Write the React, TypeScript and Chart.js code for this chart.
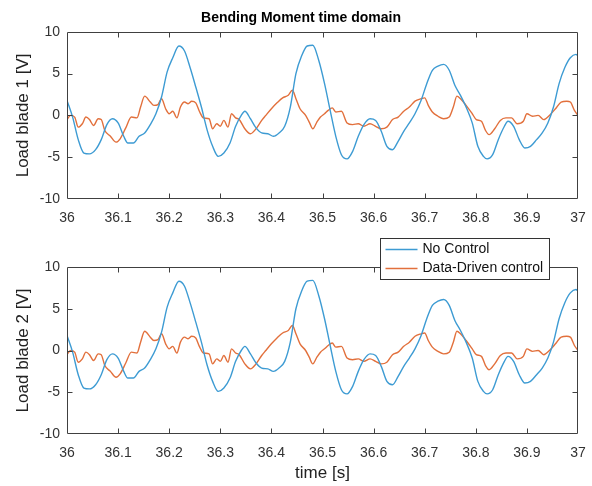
import React, { useEffect, useRef } from "react";
import { Chart, registerables } from "chart.js";

Chart.register(...registerables);

const titleText = "Bending Moment time domain";
const seriesLabels = ["No Control", "Data-Driven control"];
const seriesColors = ["#3d9bd3", "#e2703c"];
const yLabels = ["Load blade 1 [V]", "Load blade 2 [V]"];
const xLabel = "time [s]";
const xTicks = [36, 36.1, 36.2, 36.3, 36.4, 36.5, 36.6, 36.7, 36.8, 36.9, 37];
const yTicks = [-10, -5, 0, 5, 10];

const timeNoControl = [
  36.0, 36.011, 36.022, 36.033, 36.044, 36.056, 36.067, 36.078, 36.089, 36.1,
  36.111, 36.119, 36.13, 36.141, 36.152, 36.163, 36.174, 36.185, 36.196, 36.207,
  36.219, 36.23, 36.241, 36.252, 36.263, 36.274, 36.285, 36.296, 36.307, 36.319,
  36.33, 36.341, 36.348, 36.359, 36.37, 36.381, 36.393, 36.404, 36.415, 36.426,
  36.437, 36.448, 36.459, 36.47, 36.481, 36.493, 36.504, 36.515, 36.526, 36.537,
  36.548, 36.559, 36.57, 36.581, 36.593, 36.604, 36.615, 36.626, 36.637, 36.648,
  36.659, 36.67, 36.681, 36.693, 36.704, 36.715, 36.726, 36.737, 36.748, 36.759,
  36.77, 36.781, 36.793, 36.804, 36.815, 36.822, 36.833, 36.844, 36.856, 36.863,
  36.874, 36.885, 36.896, 36.907, 36.919, 36.93, 36.941, 36.952, 36.963, 36.974,
  36.985, 36.996, 37.0,
];
const loadNoControl = [
  1.8, -0.2, -2.9, -4.5, -4.6, -4.1, -2.9, -1.1, -0.4, -0.9,
  -2.5, -3.3, -3.3, -2.5, -2.1, -1.1, 0.2, 2.2, 5.2, 6.9,
  8.3, 7.7, 5.7, 3.4, 1.0, -1.7, -3.7, -4.9, -4.5, -3.3,
  -1.3, 0.0, 0.5, -0.4, -1.5, -2.1, -2.2, -2.5, -2.1, -1.3,
  1.0, 5.0, 7.1, 8.3, 8.4, 6.5, 3.8, 0.6, -2.5, -4.7,
  -5.2, -4.3, -2.5, -1.1, -0.4, -0.6, -1.9, -3.7, -4.1, -3.1,
  -1.9, -0.9, 0.2, 1.8, 3.8, 5.4, 5.9, 6.1, 5.4, 3.6,
  2.4, 1.0, -0.9, -3.7, -4.9, -5.2, -4.7, -2.9, -1.3, -0.7,
  -1.3, -2.9, -3.9, -3.7, -2.9, -2.1, -0.9, 1.0, 3.8, 5.7,
  6.9, 7.3, 7.1,
];

const timeDataDriven = [
  36.0, 36.007, 36.015, 36.022, 36.03, 36.037, 36.044, 36.052, 36.061, 36.067,
  36.074, 36.085, 36.096, 36.104, 36.115, 36.126, 36.137, 36.144, 36.152, 36.163,
  36.17, 36.178, 36.185, 36.193, 36.2, 36.207, 36.215, 36.222, 36.23, 36.237,
  36.244, 36.252, 36.259, 36.267, 36.278, 36.285, 36.293, 36.3, 36.307, 36.315,
  36.322, 36.33, 36.337, 36.348, 36.359, 36.37, 36.381, 36.389, 36.4, 36.411,
  36.422, 36.433, 36.441, 36.448, 36.456, 36.467, 36.474, 36.481, 36.489, 36.496,
  36.504, 36.511, 36.519, 36.526, 36.537, 36.548, 36.559, 36.57, 36.581, 36.593,
  36.604, 36.615, 36.626, 36.637, 36.648, 36.659, 36.67, 36.681, 36.693, 36.7,
  36.707, 36.715, 36.726, 36.737, 36.748, 36.756, 36.763, 36.77, 36.781, 36.793,
  36.801, 36.811, 36.819, 36.826, 36.837, 36.848, 36.859, 36.87, 36.881, 36.893,
  36.9, 36.911, 36.922, 36.933, 36.944, 36.956, 36.967, 36.978, 36.985, 36.993,
  37.0,
];
const loadDataDriven = [
  -0.5, 0.0, -0.2, -1.4, -1.0, -0.2, -0.5, -1.2, -0.4, -0.5,
  -1.8, -2.5, -3.2, -2.8, -1.5, -0.2, -0.3, 1.0, 2.3, 1.6,
  1.2, 1.3, 2.0, 0.8, 0.2, 0.5, -0.3, 1.0, 1.6, 1.4,
  1.7, 1.5, 0.5, -0.3, -0.4, -1.6, -1.0, -1.3, -0.6, -1.4,
  0.2, -0.3, -0.5, -1.6, -2.2, -1.6, -0.6, 0.0, 0.8, 1.5,
  2.1, 2.4, 3.0, 2.0, 0.8, 0.0, -0.8, -1.6, -0.8, -0.2,
  0.2, 0.6, 0.9, 0.4, 0.5, -0.9, -1.1, -1.0, -1.3, -1.0,
  -1.3, -1.6, -1.4, -0.5, -0.2, 0.5, 1.0, 1.7, 2.0, 2.1,
  1.2, 0.4, -0.1, -0.4, -0.2, 1.0, 2.3, 2.0, 1.2, 0.2,
  -0.5, -0.7, -1.8, -2.3, -1.6, -0.6, -0.3, -0.3, -1.0, -0.7,
  0.2, -0.1, 0.0, -0.5, 0.0, 0.8, 1.6, 1.7, 1.6, 0.6,
  0.0,
];

const FONT = "'Liberation Sans', Arial, Helvetica, sans-serif";

const framePlugin = {
  id: "matlabFrame",
  afterDatasetsDraw(chart: any) {
    const { ctx, chartArea: a, scales } = chart;
    ctx.save();
    ctx.strokeStyle = "#404040";
    ctx.lineWidth = 1;
    ctx.beginPath();
    const L = Math.round(a.left) + 0.5;
    const R = Math.round(a.right) - 0.5;
    const T = Math.round(a.top) + 0.5;
    const B = Math.round(a.bottom) - 0.5;
    ctx.rect(L, T, R - L, B - T);
    const tl = 5;
    xTicks.forEach((v) => {
      const px = Math.round(scales.x.getPixelForValue(v)) + 0.5;
      if (px <= L + 1 || px >= R - 1) return;
      ctx.moveTo(px, B);
      ctx.lineTo(px, B - tl);
      ctx.moveTo(px, T);
      ctx.lineTo(px, T + tl);
    });
    yTicks.forEach((v) => {
      const py = Math.round(scales.y.getPixelForValue(v)) + 0.5;
      if (py <= T + 1 || py >= B - 1) return;
      ctx.moveTo(L, py);
      ctx.lineTo(L + tl, py);
      ctx.moveTo(R, py);
      ctx.lineTo(R - tl, py);
    });
    ctx.stroke();
    ctx.restore();
  },
};

const legendPlugin = {
  id: "matlabLegend",
  afterDraw(chart: any) {
    const { ctx } = chart;
    const x0 = 380.5;
    const y0 = 10.5;
    const w = 169;
    const h = 41;
    ctx.save();
    ctx.fillStyle = "#ffffff";
    ctx.fillRect(x0, y0, w, h);
    ctx.strokeStyle = "#333333";
    ctx.lineWidth = 1;
    ctx.strokeRect(x0, y0, w, h);
    chart.data.datasets.forEach((ds: any, i: number) => {
      const cy = y0 + 11 + i * 19;
      ctx.strokeStyle = ds.borderColor;
      ctx.lineWidth = 1.3;
      ctx.beginPath();
      ctx.moveTo(x0 + 5, cy);
      ctx.lineTo(x0 + 37, cy);
      ctx.stroke();
      ctx.fillStyle = "#111111";
      ctx.font = `14px ${FONT}`;
      ctx.textAlign = "left";
      ctx.textBaseline = "middle";
      ctx.fillText(ds.label, x0 + 42, cy);
    });
    ctx.restore();
  },
};

function makeConfig(idx: number): any {
  const isTop = idx === 0;
  const toPts = (ts: number[], vs: number[]) => ts.map((t, i) => ({ x: t, y: vs[i] }));
  return {
    type: "line",
    data: {
      datasets: [
        {
          label: seriesLabels[0],
          data: toPts(timeNoControl, loadNoControl),
          borderColor: seriesColors[0],
          borderWidth: 1.4,
          pointRadius: 0,
          cubicInterpolationMode: "monotone",
          fill: false,
        },
        {
          label: seriesLabels[1],
          data: toPts(timeDataDriven, loadDataDriven),
          borderColor: seriesColors[1],
          borderWidth: 1.4,
          pointRadius: 0,
          cubicInterpolationMode: "monotone",
          fill: false,
        },
      ],
    },
    options: {
      animation: false,
      responsive: false,
      devicePixelRatio: 1,
      events: [],
      layout: { padding: { top: isTop ? 0 : 39, right: 0, left: 10, bottom: 0 } },
      plugins: {
        legend: { display: false },
        tooltip: { enabled: false },
        title: {
          display: isTop,
          text: titleText,
          color: "#000000",
          font: { family: FONT, size: 14, weight: "bold" },
          padding: { top: 10, bottom: 5 },
        },
      },
      scales: {
        x: {
          type: "linear",
          min: 36,
          max: 37,
          grid: { display: false, drawTicks: false },
          border: { display: false },
          afterBuildTicks: (s: any) => {
            s.ticks = xTicks.map((v) => ({ value: v }));
          },
          afterFit: (s: any) => {
            s.height = isTop ? 29 : 52;
            s.paddingLeft = 0;
            s.paddingRight = 14;
          },
          ticks: {
            autoSkip: false,
            maxRotation: 0,
            padding: 11,
            color: "#333333",
            font: { family: FONT, size: 14 },
            callback: (v: any) => String(Math.round(Number(v) * 10) / 10),
          },
          title: {
            display: !isTop,
            text: xLabel,
            color: "#222222",
            font: { family: FONT, size: 17 },
            padding: { top: 0, bottom: 2 },
          },
        },
        y: {
          type: "linear",
          min: -10,
          max: 10,
          grid: { display: false, drawTicks: false },
          border: { display: false },
          afterBuildTicks: (s: any) => {
            s.ticks = yTicks.map((v) => ({ value: v }));
          },
          afterFit: (s: any) => {
            s.width = 57;
            s.paddingTop = 0;
            s.paddingBottom = 0;
          },
          ticks: {
            padding: 7,
            color: "#333333",
            font: { family: FONT, size: 14 },
            callback: (v: any) => String(v),
          },
          title: {
            display: true,
            text: yLabels[idx],
            color: "#222222",
            font: { family: FONT, size: 17 },
            padding: { top: 3, bottom: 0 },
          },
        },
      },
    },
    plugins: isTop ? [framePlugin] : [framePlugin, legendPlugin],
  };
}

export default function App() {
  const topRef = useRef<HTMLCanvasElement | null>(null);
  const bottomRef = useRef<HTMLCanvasElement | null>(null);

  useEffect(() => {
    const charts: Chart[] = [];
    if (topRef.current) charts.push(new Chart(topRef.current, makeConfig(0)));
    if (bottomRef.current) charts.push(new Chart(bottomRef.current, makeConfig(1)));
    return () => charts.forEach((c) => c.destroy());
  }, []);

  return (
    <div style={{ position: "absolute", left: 0, top: 0, width: 592, height: 486, background: "#ffffff" }}>
      <canvas
        ref={topRef}
        width={592}
        height={228}
        style={{ position: "absolute", left: 0, top: 0, width: 592, height: 228 }}
      />
      <canvas
        ref={bottomRef}
        width={592}
        height={258}
        style={{ position: "absolute", left: 0, top: 228, width: 592, height: 258 }}
      />
    </div>
  );
}
